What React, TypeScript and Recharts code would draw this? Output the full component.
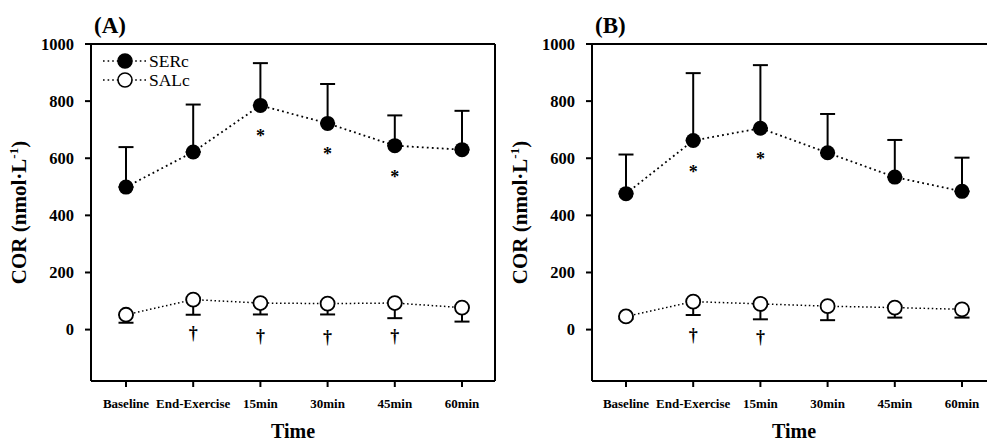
import React from "react";
import { ComposedChart, Line, XAxis, YAxis, ErrorBar, Legend } from "recharts";

const times = ["Baseline", "End-Exercise", "15min", "30min", "45min", "60min"];
const yTicks = [0, 200, 400, 600, 800, 1000];
const seriesNames = ["SERc", "SALc"];

// panel A
const serA = [499, 622, 785, 722, 644, 630];
const serSdA = [140, 166, 148, 138, 106, 136];
const serSigA = [false, false, true, true, true, false];
const salA = [52, 105, 93, 91, 93, 77];
const salSdA = [28, 53, 40, 38, 53, 49];
const salSigA = [false, true, true, true, true, false];

// panel B
const serB = [476, 662, 705, 619, 534, 484];
const serSdB = [137, 236, 221, 136, 130, 118];
const serSigB = [false, true, true, false, false, false];
const salB = [46, 98, 90, 82, 77, 71];
const salSdB = [8, 47, 54, 49, 35, 29];
const salSigB = [false, true, true, false, false, false];

const FONT = "'Liberation Serif', 'Times New Roman', serif";

const buildRows = (
  ser: number[], serSd: number[], serSig: boolean[],
  sal: number[], salSd: number[], salSig: boolean[]
) =>
  times.map((t, i) => ({
    time: t,
    ser: ser[i],
    serErr: [0, serSd[i]],
    serSig: serSig[i],
    sal: sal[i],
    salErr: [salSd[i], 0],
    salSig: salSig[i],
  }));

const rowsA = buildRows(serA, serSdA, serSigA, salA, salSdA, salSigA);
const rowsB = buildRows(serB, serSdB, serSigB, salB, salSdB, salSigB);

const SerDot = (props: any) => {
  const { cx, cy, payload } = props;
  if (cx == null || cy == null) return <g />;
  return (
    <g>
      <circle cx={cx} cy={cy} r={7.5} fill="#000" />
      {payload.serSig ? (
        <text x={cx} y={cy + 37} textAnchor="middle" fontFamily={FONT} fontWeight="bold" fontSize={18} fill="#000">
          *
        </text>
      ) : null}
    </g>
  );
};

const SalDot = (props: any) => {
  const { cx, cy, payload } = props;
  if (cx == null || cy == null) return <g />;
  return (
    <g>
      <circle cx={cx} cy={cy} r={7} fill="#fff" stroke="#000" strokeWidth={1.8} />
      {payload.salSig ? (
        <text x={cx} y={cy + 39} textAnchor="middle" fontFamily={FONT} fontWeight="bold" fontSize={18} fill="#000">
          †
        </text>
      ) : null}
    </g>
  );
};

const PanelTitle = (props: any) => {
  const vb = props.viewBox || { x: 0, y: 0 };
  return (
    <text x={vb.x + 3} y={vb.y - 10} fontFamily={FONT} fontWeight="bold" fontSize={23} fill="#000">
      {props.text}
    </text>
  );
};

const TimeLabel = (props: any) => {
  const vb = props.viewBox || { x: 0, y: 0, width: 0 };
  return (
    <text x={vb.x + vb.width / 2} y={vb.y + 57} textAnchor="middle" fontFamily={FONT} fontWeight="bold" fontSize={20} fill="#000">
      Time
    </text>
  );
};

const CorLabel = (props: any) => {
  const vb = props.viewBox || { x: 0, y: 0, height: 0 };
  const x = vb.x - 5;
  const y = vb.y + vb.height / 2;
  return (
    <text x={x} y={y} transform={`rotate(-90 ${x} ${y})`} textAnchor="middle" fontFamily={FONT} fontWeight="bold" fontSize={21} fill="#000">
      COR (nmol·L
      <tspan dy={-8} fontSize={13}>-1</tspan>
      <tspan dy={8}>)</tspan>
    </text>
  );
};

const LegendBox = (props: any) => {
  const items = seriesNames.filter((n) => (props.payload || []).some((p: any) => p.value === n));
  return (
    <svg width={120} height={42} style={{ display: "block" }}>
      {items.map((name, i) => {
        const y = 11 + i * 19;
        const filled = name === seriesNames[0];
        return (
          <g key={name}>
            <line x1={3} x2={46} y1={y} y2={y} stroke="#000" strokeWidth={1.6} strokeDasharray="1.6 3" />
            <circle cx={25} cy={y} r={7} fill={filled ? "#000" : "#fff"} stroke="#000" strokeWidth={1.6} />
            <text x={49} y={y + 6} fontFamily={FONT} fontSize={17.5} fill="#000">
              {name}
            </text>
          </g>
        );
      })}
    </svg>
  );
};

const axisStroke = { stroke: "#000", strokeWidth: 2 };
const xTick = { fill: "#000", fontSize: 13, fontWeight: "bold", fontFamily: FONT };
const yTick = { fill: "#000", fontSize: 16.5, fontWeight: "bold", fontFamily: FONT };

interface PanelProps {
  data: ReturnType<typeof buildRows>;
  title: string;
  width: number;
  left: number;
  right: number;
  pad: { left: number; right: number };
  legend?: boolean;
  rightEdge?: boolean;
}

const Panel: React.FC<PanelProps> = ({ data, title, width, left, right, pad, legend, rightEdge }) => (
  <ComposedChart width={width} height={441} data={data} margin={{ top: 43, right, bottom: 30, left }}>
    <XAxis
      xAxisId="top"
      dataKey="time"
      orientation="top"
      height={1}
      tick={false}
      tickLine={false}
      axisLine={axisStroke}
      padding={pad}
      label={<PanelTitle text={title} />}
    />
    <XAxis
      dataKey="time"
      height={30}
      interval={0}
      tickSize={6}
      tickMargin={12}
      tickLine={axisStroke}
      axisLine={axisStroke}
      tick={xTick}
      padding={pad}
      label={<TimeLabel />}
    />
    <YAxis
      domain={[-180, 1000]}
      ticks={yTicks}
      width={60}
      tickSize={6}
      tickMargin={11}
      tickLine={axisStroke}
      axisLine={axisStroke}
      tick={yTick}
      allowDataOverflow
      label={<CorLabel />}
    />
    {rightEdge ? (
      <YAxis
        yAxisId="right"
        orientation="right"
        width={1}
        domain={[-180, 1000]}
        allowDataOverflow
        tick={false}
        tickLine={false}
        axisLine={axisStroke}
      />
    ) : null}
    {legend ? (
      <Legend
        layout="horizontal"
        verticalAlign="middle"
        align="center"
        content={<LegendBox />}
        wrapperStyle={{ left: 100, top: 50, width: 120 }}
      />
    ) : null}
    {/* frame helper: binds the top (and right) axes so they get drawn */}
    <Line
      xAxisId="top"
      yAxisId={rightEdge ? "right" : 0}
      dataKey="ser"
      stroke="none"
      dot={false}
      activeDot={false}
      legendType="none"
      isAnimationActive={false}
    />
    <Line
      name={seriesNames[1]}
      dataKey="sal"
      stroke="#000"
      strokeWidth={1.5}
      strokeDasharray="1.5 2.6"
      dot={<SalDot />}
      activeDot={false}
      isAnimationActive={false}
    >
      <ErrorBar dataKey="salErr" direction="y" width={7.5} stroke="#000" strokeWidth={2} />
    </Line>
    <Line
      name={seriesNames[0]}
      dataKey="ser"
      stroke="#000"
      strokeWidth={1.8}
      strokeDasharray="1.8 3.2"
      dot={<SerDot />}
      activeDot={false}
      isAnimationActive={false}
    >
      <ErrorBar dataKey="serErr" direction="y" width={7.5} stroke="#000" strokeWidth={2} />
    </Line>
  </ComposedChart>
);

export default function App() {
  return (
    <div
      style={{
        position: "absolute",
        left: 0,
        top: 0,
        width: 987,
        height: 441,
        overflow: "hidden",
        background: "#fff",
        display: "flex",
      }}
    >
      <div style={{ position: "relative", width: 500, flex: "none" }}>
        <Panel data={rowsA} title="(A)" width={500} left={31} right={4} pad={{ left: 35, right: 33 }} legend rightEdge />
      </div>
      <div style={{ position: "relative", width: 501, flex: "none" }}>
        <Panel data={rowsB} title="(B)" width={501} left={32} right={5} pad={{ left: 34, right: 34 }} />
      </div>
    </div>
  );
}
